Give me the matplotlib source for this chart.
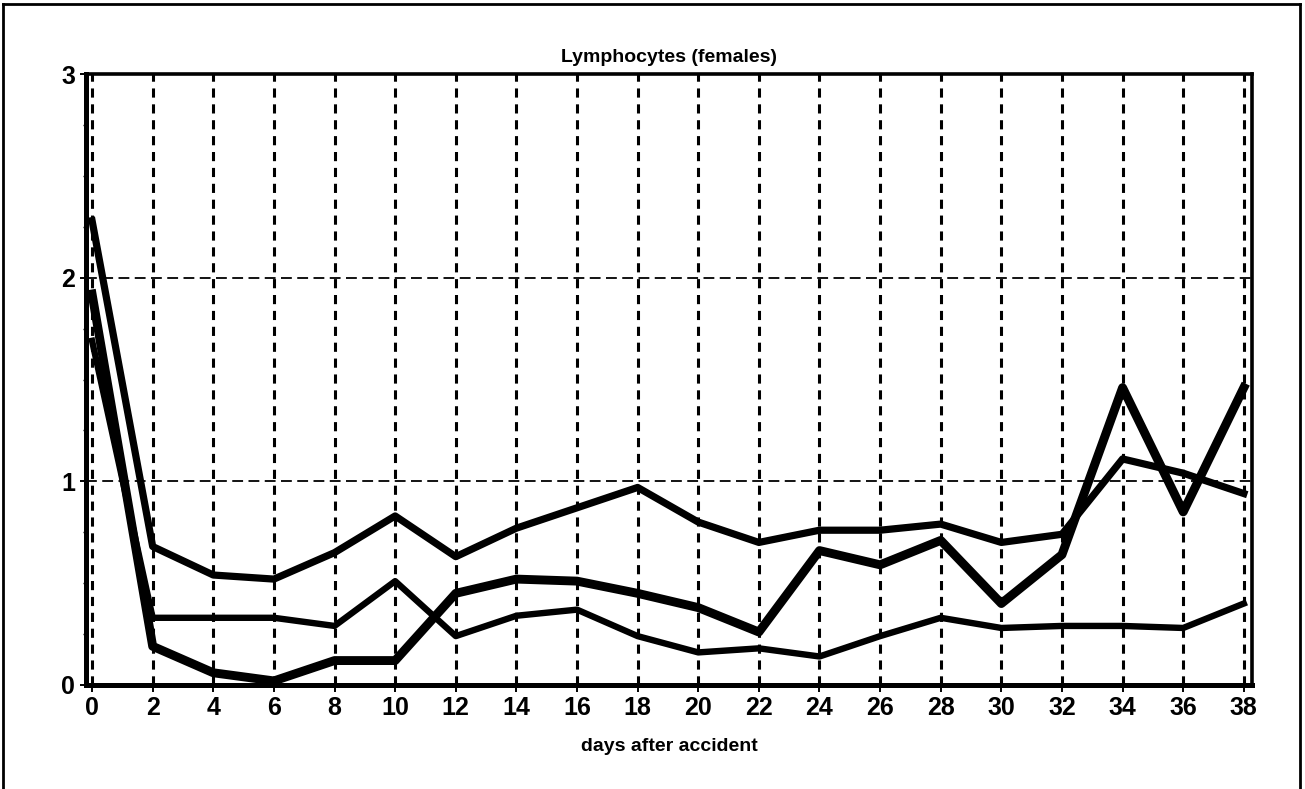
import matplotlib
matplotlib.use("Agg")
import matplotlib.pyplot as plt
from matplotlib.lines import Line2D
from matplotlib.ticker import MultipleLocator

# Days after the accident
days = [0, 2, 4, 6, 8, 10, 12, 14, 16, 18, 20, 22, 24, 26, 28, 30, 32, 34, 36, 38]

# Lymphocyte counts for three patients (females)
patient_a = [2.28, 0.68, 0.54, 0.52, 0.65, 0.83, 0.63, 0.77, 0.87, 0.97,
             0.80, 0.70, 0.76, 0.76, 0.79, 0.70, 0.74, 1.11, 1.04, 0.94]
patient_b = [1.69, 0.33, 0.33, 0.33, 0.29, 0.51, 0.24, 0.34, 0.37, 0.24,
             0.16, 0.18, 0.14, 0.24, 0.33, 0.28, 0.29, 0.29, 0.28, 0.40]
patient_c = [1.92, 0.19, 0.06, 0.02, 0.12, 0.12, 0.45, 0.52, 0.51, 0.45,
             0.38, 0.26, 0.66, 0.59, 0.71, 0.40, 0.64, 1.46, 0.85, 1.46]

x_ticks = list(range(0, 39, 2))
y_ticks = [0, 1, 2, 3]

title = "Lymphocytes (females)"
x_label = "days after accident"

plt.rcParams["font.family"] = ["Liberation Sans", "DejaVu Sans"]

W, H = 1305, 789
fig = plt.figure(figsize=(W / 100, H / 100), dpi=100)
fig.patch.set_facecolor("white")

left, right, top, bottom = 86, 1252, 74, 685
ax = fig.add_axes([left / W, 1 - bottom / H, (right - left) / W, (bottom - top) / H])

ax.plot(days, patient_a, color="black", lw=5.2, solid_joinstyle="round", zorder=3)
ax.plot(days, patient_b, color="black", lw=4.6, solid_joinstyle="round", zorder=3)
ax.plot(days, patient_c, color="black", lw=6.4, solid_joinstyle="round", zorder=3)

ax.set_xlim(-0.2, 38.27)
ax.set_ylim(0, 3)
ax.set_xticks(x_ticks)
ax.set_yticks(y_ticks)
ax.yaxis.set_minor_locator(MultipleLocator(0.25))

ax.xaxis.grid(True, color="black", linestyle=(0, (3, 2.2)), linewidth=2.2)
ax.yaxis.grid(True, color="black", linestyle=(0, (6, 3)), linewidth=1.3)
ax.set_axisbelow(True)

for side, lw in (("left", 3.6), ("bottom", 3.6), ("top", 2.6), ("right", 2.6)):
    ax.spines[side].set_linewidth(lw)
    ax.spines[side].set_color("black")

ax.tick_params(axis="x", direction="out", length=5, width=1.4, pad=3,
               labelsize=18)
ax.tick_params(axis="y", direction="out", length=4, width=1.4, pad=4,
               labelsize=18)
ax.tick_params(axis="y", which="minor", direction="out", length=2, width=1.0)
for lab in ax.get_xticklabels() + ax.get_yticklabels():
    lab.set_fontweight("bold")

ax.set_title(title, fontsize=14, fontweight="bold", pad=9)
ax.set_xlabel(x_label, fontsize=14, fontweight="bold", labelpad=13)

# Frame around the whole figure (top, left and right edges)
frame_kw = dict(color="black", lw=2.0, transform=None)
fig.add_artist(Line2D([3, W - 5], [H - 4, H - 4], **frame_kw))
fig.add_artist(Line2D([3, 3], [0, H - 4], **frame_kw))
fig.add_artist(Line2D([W - 5, W - 5], [0, H - 4], **frame_kw))

fig.savefig("out.png", dpi=100)
